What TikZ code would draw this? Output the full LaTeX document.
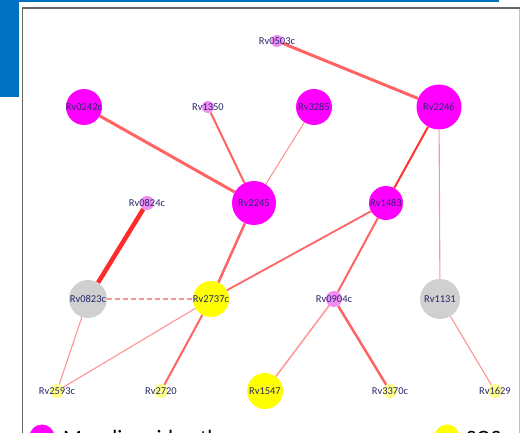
\documentclass[tikz,border=0pt]{standalone}
\usepackage{fontspec}
\setmainfont{Carlito}
\definecolor{mag}{HTML}{FF00FF}
\definecolor{lpink}{HTML}{F28CF2}
\definecolor{gry}{HTML}{D0D0D0}
\definecolor{yel}{HTML}{FFFF00}
\definecolor{lyel}{HTML}{FFFF88}
\definecolor{edge}{HTML}{FF6464}
\definecolor{edgel}{HTML}{FF9494}
\definecolor{edged}{HTML}{FF2A2A}
\definecolor{lbl}{HTML}{28286E}
\definecolor{blu}{HTML}{0070C0}
\tikzset{
  gene/.style={circle,inner sep=0pt,minimum size=#1},
  lab/.style={font=\fontsize{10.5}{11}\selectfont,text=lbl,inner sep=0pt},
  leg/.style={font=\fontsize{22}{24}\selectfont,text=black,anchor=base west,inner sep=0pt},
  e1/.style={draw=edgel,line width=1.1pt},
  e2/.style={draw=edge,line width=2pt},
  e3/.style={draw=edge,line width=3pt},
  e4/.style={draw=edged,line width=4.5pt},
}
\begin{document}
\begin{tikzpicture}[x=1pt,y=-1pt]
\useasboundingbox (0,0) rectangle (520,433);
\clip (0,0) rectangle (520,433);
\fill[white] (0,0) rectangle (520,433);
% blue decoration
\fill[blu] (0,0) rectangle (19,97);
\fill[blu] (19,0) rectangle (499,2.2);
% frame
\draw[draw=black!25,line width=0.8pt] (519.5,8) -- (519.5,440);
\draw[draw=black!60,line width=1.6pt] (22.5,440) -- (22.5,8) -- (519.5,8);
% nodes
\node[gene=12pt,fill=lpink] (n0503) at (277,41) {};
\node[gene=36pt,fill=mag] (n0242) at (84,107) {};
\node[gene=12pt,fill=lpink] (n1350) at (208,107) {};
\node[gene=36pt,fill=mag] (n3285) at (314,107) {};
\node[gene=45pt,fill=mag] (n2246) at (439,107) {};
\node[gene=14pt,fill=lpink] (n0824) at (147,203) {};
\node[gene=44pt,fill=mag] (n2245) at (254,203) {};
\node[gene=34pt,fill=mag] (n1483) at (386,203) {};
\node[gene=38pt,fill=gry] (n0823) at (88,299) {};
\node[gene=36pt,fill=yel] (n2737) at (211,299) {};
\node[gene=16pt,fill=lpink] (n0904) at (334,299) {};
\node[gene=40pt,fill=gry] (n1131) at (440,299) {};
\node[gene=14pt,fill=lyel] (n2593) at (57,391) {};
\node[gene=14pt,fill=lyel] (n2720) at (161,391) {};
\node[gene=36pt,fill=yel] (n1547) at (265,391) {};
\node[gene=14pt,fill=lyel] (n3370) at (390,391) {};
\node[gene=14pt,fill=lyel] (n1629) at (495,391) {};
% edges
\draw[e3] (n0503) -- (n2246);
\draw[e3] (n0242) -- (n2245);
\draw[e2] (n1350) -- (n2245);
\draw[e1] (n3285) -- (n2245);
\draw[e2,draw=edged!85!edge] (n2246) -- (n1483);
\draw[e1] (n2246) -- (n1131);
\draw[e4] (n0824) -- (n0823);
\draw[e2,line width=2.5pt] (n2245) -- (n2737);
\draw[e2,line width=1.8pt] (n1483) -- (n2737);
\draw[e2] (n1483) -- (n0904);
\draw[e1,dashed,dash pattern=on 5pt off 3pt] (n0823) -- (n2737);
\draw[e1] (n0823) -- (n2593);
\draw[e1] (n2737) -- (n2593);
\draw[e2] (n2737) -- (n2720);
\draw[e1,line width=1.5pt] (n0904) -- (n1547);
\draw[e3,line width=2.5pt] (n0904) -- (n3370);
\draw[e1] (n1131) -- (n1629);
% labels
\node[lab] at (n0503) {Rv0503c};
\node[lab] at (n0242) {Rv0242c};
\node[lab] at (n1350) {Rv1350};
\node[lab] at (n3285) {Rv3285};
\node[lab] at (n2246) {Rv2246};
\node[lab] at (n0824) {Rv0824c};
\node[lab] at (n2245) {Rv2245};
\node[lab] at (n1483) {Rv1483};
\node[lab] at (n0823) {Rv0823c};
\node[lab] at (n2737) {Rv2737c};
\node[lab] at (n0904) {Rv0904c};
\node[lab] at (n1131) {Rv1131};
\node[lab] at (n2593) {Rv2593c};
\node[lab] at (n2720) {Rv2720};
\node[lab] at (n1547) {Rv1547};
\node[lab] at (n3370) {Rv3370c};
\node[lab] at (n1629) {Rv1629};
% legend
\node[gene=25pt,fill=mag] (lm) at (42,437) {};
\node[leg] (lmt) at (63,445) {Mycolic acid pathway};
\node[gene=25pt,fill=yel] (ly) at (447,437) {};
\node[leg] (lyt) at (466,445) {SOS response};
\end{tikzpicture}
\end{document}
